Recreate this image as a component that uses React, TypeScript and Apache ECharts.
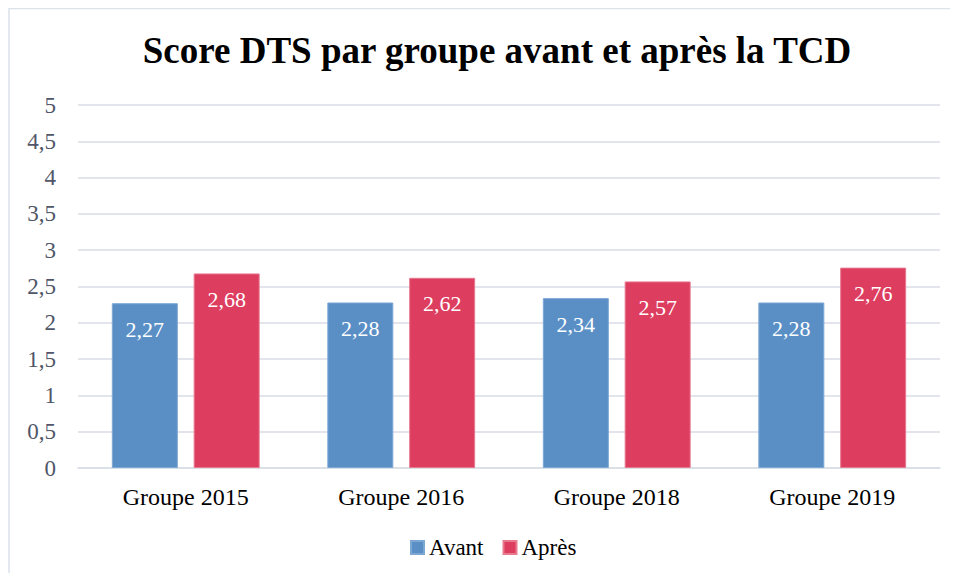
import React, { useEffect, useRef } from "react";
import * as echarts from "echarts";

const categories = ["Groupe 2015", "Groupe 2016", "Groupe 2018", "Groupe 2019"];
const avant = [2.27, 2.28, 2.34, 2.28];
const apres = [2.68, 2.62, 2.57, 2.76];
const seriesNames = ["Avant", "Après"];
const titleText = "Score DTS par groupe avant et après la TCD";

const fmt = (v: number) => String(v).replace(".", ",");

export default function App() {
  const ref = useRef<HTMLDivElement>(null);
  useEffect(() => {
    if (!ref.current) return;
    const chart = echarts.init(ref.current, null, { renderer: "svg" });
    const font = "Liberation Serif";
    const label = {
      show: true,
      position: "insideTop" as const,
      distance: 15,
      color: "#ffffff",
      fontFamily: font,
      fontSize: 22,
      formatter: (p: any) => fmt(p.value),
    };
    chart.setOption({
      animation: false,
      backgroundColor: "#ffffff",
      textStyle: { fontFamily: font },
      graphic: [
        {
          type: "rect",
          shape: { x: 1, y: 0.5, width: 3000, height: 3000 },
          style: { fill: "none", stroke: "#DCE2EA", lineWidth: 1.5 },
          silent: true,
        },
      ],
      title: {
        text: titleText,
        left: 484,
        top: 19,
        textAlign: "center",
        textStyle: { fontFamily: font, fontSize: 37, fontWeight: "bold", color: "#000000" },
      },
      legend: {
        data: seriesNames,
        bottom: 9,
        left: 397,
        itemWidth: 13,
        itemHeight: 13,
        itemGap: 19,
        icon: "rect",
        textStyle: { fontFamily: font, fontSize: 23, color: "#000000" },
      },
      grid: { left: 70, right: 10, top: 97, bottom: 105, containLabel: false },
      xAxis: {
        type: "category",
        data: categories,
        axisLine: { show: true, lineStyle: { color: "#D9DEE6", width: 1.5 } },
        axisTick: { show: false },
        axisLabel: { color: "#000000", fontFamily: font, fontSize: 24, margin: 17 },
      },
      yAxis: {
        type: "value",
        min: 0,
        max: 5,
        interval: 0.5,
        axisLine: { show: false },
        axisTick: { show: false },
        splitLine: { lineStyle: { color: "#D9DEE6", width: 1.5 } },
        axisLabel: {
          color: "#505668",
          fontFamily: font,
          fontSize: 23,
          margin: 22,
          formatter: (v: number) => fmt(v),
        },
      },
      series: [
        {
          name: seriesNames[0],
          type: "bar",
          data: avant,
          barWidth: 66,
          barGap: "24%",
          itemStyle: { color: "#5A8FC6", borderColor: "#7EA8D4", borderWidth: 1 },
          label,
        },
        {
          name: seriesNames[1],
          type: "bar",
          data: apres,
          barWidth: 66,
          itemStyle: { color: "#DD3D5F", borderColor: "#E87A90", borderWidth: 1 },
          label,
        },
      ],
    });
    return () => chart.dispose();
  }, []);
  return <div ref={ref} style={{ width: 942, height: 565 }} />;
}
